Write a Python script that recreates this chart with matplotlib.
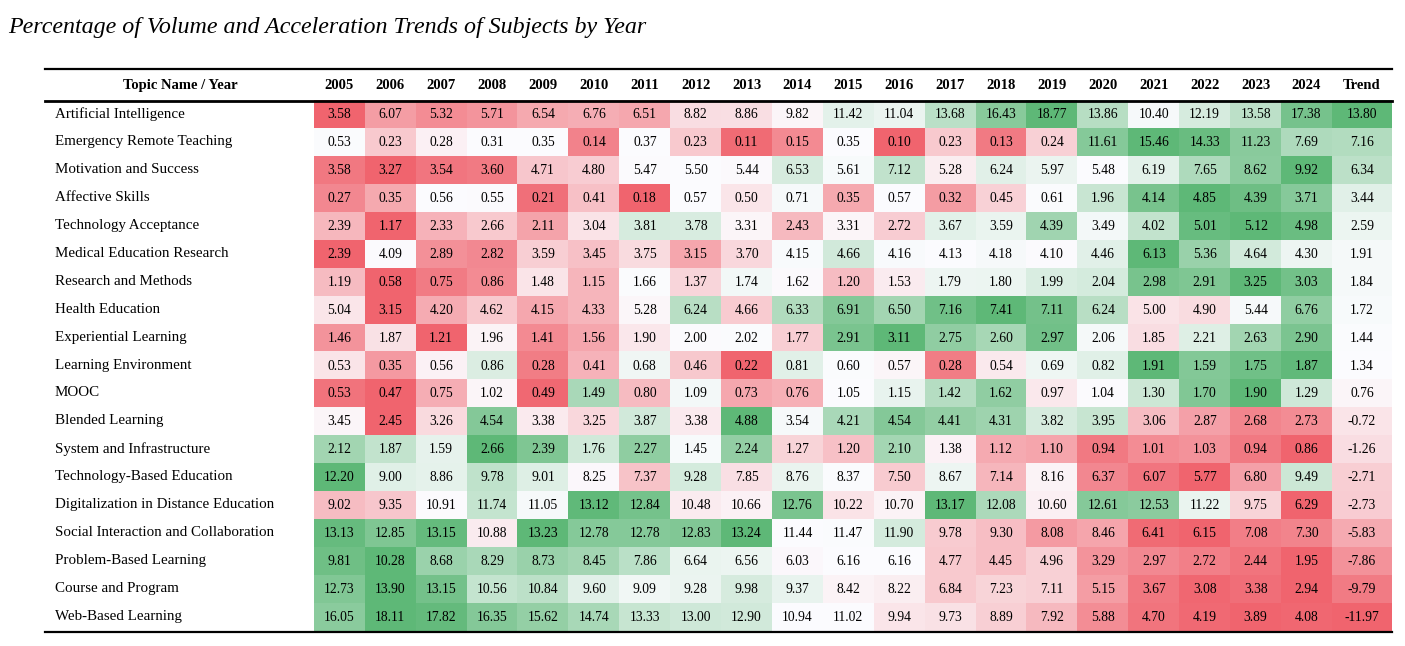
import numpy as np
import matplotlib
matplotlib.use("Agg")
import matplotlib.pyplot as plt
from matplotlib.colors import LinearSegmentedColormap, TwoSlopeNorm

plt.rcParams['font.family'] = ['Liberation Serif', 'DejaVu Serif']

title = "Percentage of Volume and Acceleration Trends of Subjects by Year"
years = [str(y) for y in range(2005, 2025)]

topics = [
    "Artificial Intelligence",
    "Emergency Remote Teaching",
    "Motivation and Success",
    "Affective Skills",
    "Technology Acceptance",
    "Medical Education Research",
    "Research and Methods",
    "Health Education",
    "Experiential Learning",
    "Learning Environment",
    "MOOC",
    "Blended Learning",
    "System and Infrastructure",
    "Technology-Based Education",
    "Digitalization in Distance Education",
    "Social Interaction and Collaboration",
    "Problem-Based Learning",
    "Course and Program",
    "Web-Based Learning",
]

# yearly share (%) per topic, 2005..2024
share = [
    [3.58, 6.07, 5.32, 5.71, 6.54, 6.76, 6.51, 8.82, 8.86, 9.82, 11.42, 11.04, 13.68, 16.43, 18.77, 13.86, 10.40, 12.19, 13.58, 17.38],
    [0.53, 0.23, 0.28, 0.31, 0.35, 0.14, 0.37, 0.23, 0.11, 0.15, 0.35, 0.10, 0.23, 0.13, 0.24, 11.61, 15.46, 14.33, 11.23, 7.69],
    [3.58, 3.27, 3.54, 3.60, 4.71, 4.80, 5.47, 5.50, 5.44, 6.53, 5.61, 7.12, 5.28, 6.24, 5.97, 5.48, 6.19, 7.65, 8.62, 9.92],
    [0.27, 0.35, 0.56, 0.55, 0.21, 0.41, 0.18, 0.57, 0.50, 0.71, 0.35, 0.57, 0.32, 0.45, 0.61, 1.96, 4.14, 4.85, 4.39, 3.71],
    [2.39, 1.17, 2.33, 2.66, 2.11, 3.04, 3.81, 3.78, 3.31, 2.43, 3.31, 2.72, 3.67, 3.59, 4.39, 3.49, 4.02, 5.01, 5.12, 4.98],
    [2.39, 4.09, 2.89, 2.82, 3.59, 3.45, 3.75, 3.15, 3.70, 4.15, 4.66, 4.16, 4.13, 4.18, 4.10, 4.46, 6.13, 5.36, 4.64, 4.30],
    [1.19, 0.58, 0.75, 0.86, 1.48, 1.15, 1.66, 1.37, 1.74, 1.62, 1.20, 1.53, 1.79, 1.80, 1.99, 2.04, 2.98, 2.91, 3.25, 3.03],
    [5.04, 3.15, 4.20, 4.62, 4.15, 4.33, 5.28, 6.24, 4.66, 6.33, 6.91, 6.50, 7.16, 7.41, 7.11, 6.24, 5.00, 4.90, 5.44, 6.76],
    [1.46, 1.87, 1.21, 1.96, 1.41, 1.56, 1.90, 2.00, 2.02, 1.77, 2.91, 3.11, 2.75, 2.60, 2.97, 2.06, 1.85, 2.21, 2.63, 2.90],
    [0.53, 0.35, 0.56, 0.86, 0.28, 0.41, 0.68, 0.46, 0.22, 0.81, 0.60, 0.57, 0.28, 0.54, 0.69, 0.82, 1.91, 1.59, 1.75, 1.87],
    [0.53, 0.47, 0.75, 1.02, 0.49, 1.49, 0.80, 1.09, 0.73, 0.76, 1.05, 1.15, 1.42, 1.62, 0.97, 1.04, 1.30, 1.70, 1.90, 1.29],
    [3.45, 2.45, 3.26, 4.54, 3.38, 3.25, 3.87, 3.38, 4.88, 3.54, 4.21, 4.54, 4.41, 4.31, 3.82, 3.95, 3.06, 2.87, 2.68, 2.73],
    [2.12, 1.87, 1.59, 2.66, 2.39, 1.76, 2.27, 1.45, 2.24, 1.27, 1.20, 2.10, 1.38, 1.12, 1.10, 0.94, 1.01, 1.03, 0.94, 0.86],
    [12.20, 9.00, 8.86, 9.78, 9.01, 8.25, 7.37, 9.28, 7.85, 8.76, 8.37, 7.50, 8.67, 7.14, 8.16, 6.37, 6.07, 5.77, 6.80, 9.49],
    [9.02, 9.35, 10.91, 11.74, 11.05, 13.12, 12.84, 10.48, 10.66, 12.76, 10.22, 10.70, 13.17, 12.08, 10.60, 12.61, 12.53, 11.22, 9.75, 6.29],
    [13.13, 12.85, 13.15, 10.88, 13.23, 12.78, 12.78, 12.83, 13.24, 11.44, 11.47, 11.90, 9.78, 9.30, 8.08, 8.46, 6.41, 6.15, 7.08, 7.30],
    [9.81, 10.28, 8.68, 8.29, 8.73, 8.45, 7.86, 6.64, 6.56, 6.03, 6.16, 6.16, 4.77, 4.45, 4.96, 3.29, 2.97, 2.72, 2.44, 1.95],
    [12.73, 13.90, 13.15, 10.56, 10.84, 9.60, 9.09, 9.28, 9.98, 9.37, 8.42, 8.22, 6.84, 7.23, 7.11, 5.15, 3.67, 3.08, 3.38, 2.94],
    [16.05, 18.11, 17.82, 16.35, 15.62, 14.74, 13.33, 13.00, 12.90, 10.94, 11.02, 9.94, 9.73, 8.89, 7.92, 5.88, 4.70, 4.19, 3.89, 4.08],
]

trend = [13.80, 7.16, 6.34, 3.44, 2.59, 1.91, 1.84, 1.72, 1.44, 1.34, 0.76,
         -0.72, -1.26, -2.71, -2.73, -5.83, -7.86, -9.79, -11.97]

# excel style red - white - green scale, midpoint = median
cmap = LinearSegmentedColormap.from_list("rwg", ["#F0646E", "#FCFCFF", "#5EB877"])

def scale_colors(vals):
    vals = np.asarray(vals, dtype=float)
    norm = TwoSlopeNorm(vmin=vals.min(), vcenter=np.median(vals), vmax=vals.max())
    return cmap(norm(vals))[..., :3]

share = np.array(share)
year_rgb = np.array([scale_colors(row) for row in share])
trend_rgb = scale_colors(trend).reshape(-1, 1, 3)

# layout in pixels
W, H = 1405, 646
tab_left, tab_right = 45, 1392
data_left = 314
col_w = 50.9
trend_left = data_left + col_w * len(years)
head_top, head_bot = 69, 100.5
row_top, row_h = 101, 27.9
n = len(topics)
row_bot = row_top + row_h * n

fig = plt.figure(figsize=(W / 100, H / 100), dpi=100)
ax = fig.add_axes([0, 0, 1, 1])
ax.axis('off')

ax.imshow(year_rgb, extent=[data_left, trend_left, row_bot, row_top],
          aspect='auto', interpolation='nearest')
ax.imshow(trend_rgb, extent=[trend_left, tab_right, row_bot, row_top],
          aspect='auto', interpolation='nearest')
ax.set_xlim(0, W)
ax.set_ylim(H, 0)

fig.text(8 / W, 1 - 27 / H, title, fontsize=17.3, style='italic',
         ha='left', va='center')

# header
hy = (head_top + head_bot) / 2 + 1
ax.text(180, hy, "Topic Name / Year", ha='center', va='center',
        fontsize=10.5, fontweight='bold')
for j, y in enumerate(years):
    ax.text(data_left + col_w * (j + 0.5), hy, y, ha='center', va='center',
            fontsize=10.5, fontweight='bold')
ax.text((trend_left + tab_right) / 2, hy, "Trend", ha='center', va='center',
        fontsize=10.5, fontweight='bold')

# rules
ax.plot([tab_left, tab_right], [head_top, head_top], color='black', lw=1.6)
ax.plot([tab_left, tab_right], [head_bot, head_bot], color='black', lw=2.0)
ax.plot([tab_left, tab_right], [row_bot + 1, row_bot + 1], color='black', lw=1.6)

# body
for i, name in enumerate(topics):
    cy = row_top + row_h * (i + 0.5)
    ax.text(55, cy - 1, name, ha='left', va='center', fontsize=10.8)
    for j in range(len(years)):
        ax.text(data_left + col_w * (j + 0.5), cy, f"{share[i, j]:.2f}",
                ha='center', va='center', fontsize=9.8)
    ax.text((trend_left + tab_right) / 2, cy, f"{trend[i]:.2f}",
            ha='center', va='center', fontsize=9.8)

fig.savefig("out.png", dpi=100)
